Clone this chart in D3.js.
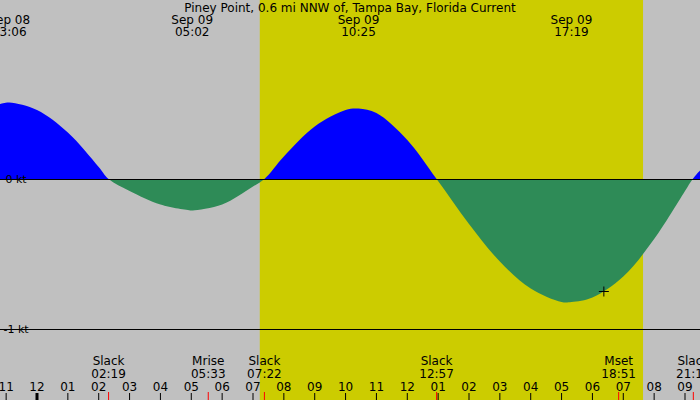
<!DOCTYPE html>
<html><head><meta charset="utf-8">
<script src="https://cdn.jsdelivr.net/npm/d3@7"></script>
<style>body{margin:0}svg{display:block;font-family:"DejaVu Sans",sans-serif}</style>
</head><body><svg width="700" height="400"></svg>
<script>
// hours relative to Sep 09 00:00, speed in knots
const hours = [-1.2, -0.9, 0, 1, 2, 2.32, 3, 4, 5, 5.05, 6, 7, 7.37, 8, 9, 10, 10.42, 11, 12, 12.95, 14, 15, 16, 17, 17.32, 18, 19, 20, 21, 21.25, 21.5];
const speeds = [0.50, 0.51, 0.46, 0.31, 0.08, 0, -0.08, -0.17, -0.21, -0.21, -0.17, -0.05, 0, 0.15, 0.35, 0.46, 0.47, 0.44, 0.26, 0, -0.30, -0.55, -0.73, -0.82, -0.82, -0.79, -0.65, -0.40, -0.08, 0, 0.06];
const topLabels = [["Sep 08", "23:06", -0.9], ["Sep 09", "05:02", 5.03], ["Sep 09", "10:25", 10.42], ["Sep 09", "17:19", 17.32]];
const events = [["Slack", "02:19", 2.32], ["Mrise", "05:33", 5.55], ["Slack", "07:22", 7.37], ["Slack", "12:57", 12.95], ["Mset", "18:51", 18.85], ["Slack", "21:16", 21.27]];
const hourTicks = d3.range(-1, 22);
const daylight = [7.22, 19.64];
const marker = [18.37, -0.75];

const svg = d3.select("svg");
const x = d3.scaleLinear().domain([0, 7]).range([37, 253]);
const y = d3.scaleLinear().domain([0, -1]).range([179, 329]);
const pts = hours.map((h, i) => [h, speeds[i]]);

svg.append("rect").attr("width", 700).attr("height", 400).attr("fill", "#c0c0c0");
svg.append("rect").attr("x", x(daylight[0])).attr("width", x(daylight[1]) - x(daylight[0]))
    .attr("height", 400).attr("fill", "#cccc00");

const defs = svg.append("defs");
defs.append("clipPath").attr("id", "pos").append("rect").attr("width", 700).attr("height", y(0));
defs.append("clipPath").attr("id", "neg").append("rect").attr("y", y(0)).attr("width", 700).attr("height", 400);

const area = d3.area().x(d => x(d[0])).y0(y(0)).y1(d => y(d[1])).curve(d3.curveCatmullRom.alpha(0.5));
svg.append("path").datum(pts).attr("d", area).attr("fill", "#0000ff").attr("clip-path", "url(#pos)");
svg.append("path").datum(pts).attr("d", area).attr("fill", "#2e8b57").attr("clip-path", "url(#neg)");

[[0, "0 kt"], [-1, "-1 kt"]].forEach(([v, t]) => {
    svg.append("line").attr("x1", 0).attr("x2", 700).attr("y1", y(v) + 0.5).attr("y2", y(v) + 0.5)
        .attr("stroke", "#000").attr("stroke-width", 1);
    svg.append("text").attr("x", 16).attr("y", y(v) + 4).attr("text-anchor", "middle")
        .attr("font-size", 11).attr("fill", "#000").text(t);
});

svg.append("text").attr("x", 350).attr("y", 12).attr("text-anchor", "middle").attr("font-size", 12)
    .text("Piney Point, 0.6 mi NNW of, Tampa Bay, Florida Current");

topLabels.forEach(d => {
    const g = svg.append("text").attr("text-anchor", "middle").attr("font-size", 12);
    g.append("tspan").attr("x", x(d[2])).attr("y", 24).text(d[0]);
    g.append("tspan").attr("x", x(d[2])).attr("y", 36).text(d[1]);
});

events.forEach(d => {
    const g = svg.append("text").attr("text-anchor", "middle").attr("font-size", 12);
    g.append("tspan").attr("x", x(d[2])).attr("y", 365).text(d[0]);
    g.append("tspan").attr("x", x(d[2])).attr("y", 378).text(d[1]);
    svg.append("line").attr("x1", x(d[2])).attr("x2", x(d[2])).attr("y1", 392).attr("y2", 400)
        .attr("stroke", "#ff0000").attr("stroke-width", 1);
});

hourTicks.forEach(h => {
    const lab = ((h + 24) % 12) || 12;
    svg.append("text").attr("x", x(h)).attr("y", 391).attr("text-anchor", "middle").attr("font-size", 12)
        .text(String(lab).padStart(2, "0"));
    svg.append("line").attr("x1", x(h)).attr("x2", x(h)).attr("y1", 393).attr("y2", 400)
        .attr("stroke", "#000").attr("stroke-width", h === 0 ? 3 : 1);
});

svg.append("path").attr("transform", `translate(${x(marker[0])},${y(marker[1])})`)
    .attr("d", "M-5,0H5M0,-5V5").attr("stroke", "#000").attr("stroke-width", 1);
</script></body></html>
